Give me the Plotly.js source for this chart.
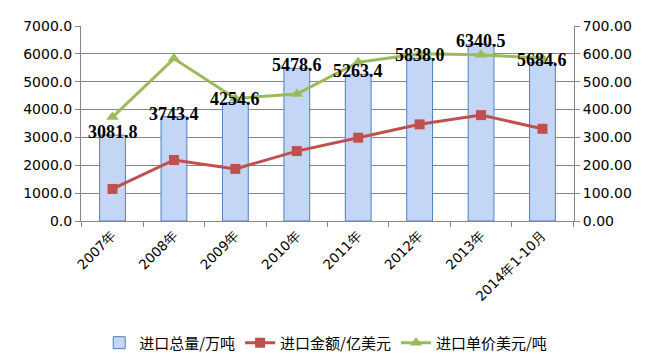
<!DOCTYPE html>
<html><head><meta charset="utf-8">
<script src="https://cdn.plot.ly/plotly-3.0.1.min.js"></script>
<style>html,body{margin:0;padding:0;background:#fff;}#chart{width:662px;height:355px;}</style>
</head><body><div id="chart"></div>
<script>
const categories = ["2007年","2008年","2009年","2010年","2011年","2012年","2013年","2014年1-10月"];
const volume = [3081.8, 3743.4, 4254.6, 5478.6, 5263.4, 5838.0, 6340.5, 5684.6];
const amount = [115, 219, 187, 251, 299, 347, 380, 331];
const price = [373, 583, 440, 456, 570, 600, 597, 584];
const names = ["进口总量/万吨", "进口金额/亿美元", "进口单价美元/吨"];
const leftTicks = [0,1000,2000,3000,4000,5000,6000,7000];
const rightTicks = [0,100,200,300,400,500,600,700];

const traces = [
  {type:'bar', x:categories, y:volume, name:names[0], yaxis:'y',
   marker:{color:'#c3d6f6', line:{color:'#4f81bd', width:1}}, hoverinfo:'skip'},
  {type:'scatter', mode:'lines+markers', x:categories, y:amount, name:names[1], yaxis:'y2',
   line:{color:'#c0504d', width:3}, marker:{symbol:'square', size:10, color:'#c0504d'}},
  {type:'scatter', mode:'lines+markers', x:categories, y:price, name:names[2], yaxis:'y2',
   line:{color:'#9bbb59', width:3}, marker:{symbol:'triangle-up', size:11, color:'#9bbb59'}}
];

const annotations = categories.map((c,i)=>({
  x:c, y:volume[i], xref:'x', yref:'y', text:volume[i].toFixed(1), showarrow:false,
  yanchor:'middle', yshift:3,
  font:{family:'Liberation Serif, Times New Roman, serif', size:18, color:'#000', weight:'bold'}
}));

const layout = {
  width:662, height:355,
  margin:{l:81, r:88, t:26, b:134, autoexpand:false},
  paper_bgcolor:'#fff', plot_bgcolor:'#fff',
  showlegend:true,
  bargap:0.58,
  font:{family:'DejaVu Sans, sans-serif', color:'#000'},
  xaxis:{type:'category', tickangle:-45, tickson:'boundaries', ticks:'outside', ticklen:5,
    tickcolor:'#868686', showline:true, linecolor:'#868686', linewidth:1, automargin:false,
    tickfont:{family:'DejaVu Sans, sans-serif', size:13.5, color:'#000'}, showgrid:false},
  yaxis:{range:[0,7000], tickvals:leftTicks, ticktext:leftTicks.map(v=>v.toFixed(1)),
    showgrid:true, gridcolor:'#868686', gridwidth:1, showline:true, linecolor:'#868686',
    ticks:'outside', ticklen:5, tickcolor:'#868686', zeroline:false, automargin:false,
    tickfont:{family:'DejaVu Sans, sans-serif', size:14, color:'#000'}},
  yaxis2:{range:[0,700], overlaying:'y', side:'right', tickvals:rightTicks,
    ticktext:rightTicks.map(v=>v.toFixed(2)), showgrid:false, showline:true, automargin:false,
    linecolor:'#868686', ticks:'outside', ticklen:5, tickcolor:'#868686', zeroline:false,
    tickfont:{family:'DejaVu Sans, sans-serif', size:14, color:'#000'}},
  legend:{orientation:'h', x:0.492, xref:'container', xanchor:'center', y:0.034, yref:'container', yanchor:'middle',
    font:{family:'Noto Sans CJK SC, sans-serif', size:15, color:'#000'}, itemwidth:30},
  annotations:annotations
};
Plotly.newPlot('chart', traces, layout, {displayModeBar:false, staticPlot:true});
</script></body></html>
